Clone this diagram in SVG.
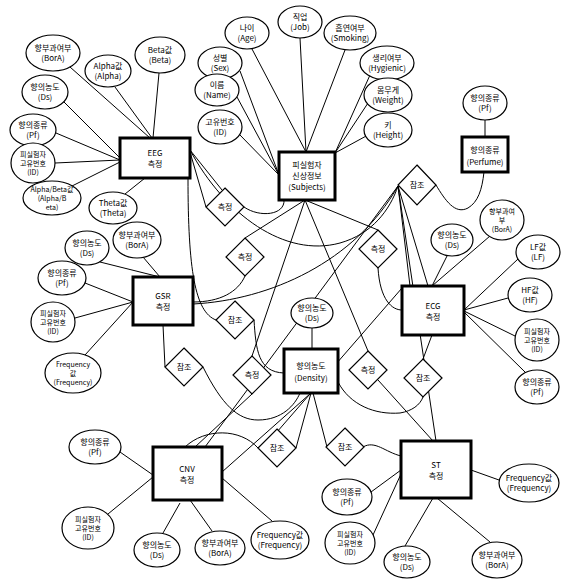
<svg xmlns="http://www.w3.org/2000/svg" width="562" height="579" viewBox="0 0 562 579">
<style>
.ent{fill:#fff;stroke:#000;stroke-width:3}
.att{fill:#fff;stroke:#000;stroke-width:1.2}
.rel{fill:#fff;stroke:#000;stroke-width:1.2}
.c{fill:none;stroke:#000;stroke-width:1}
text{font-family:"Noto Sans CJK KR","Liberation Sans",sans-serif;font-size:8px;text-anchor:middle;fill:#000}
.et{font-size:8px}
.sm{font-size:7px}
</style>
<rect width="562" height="579" fill="#fff"/>
<g id="connectors">
<!-- EEG attributes -->
<line class="c" x1="70" y1="67" x2="150" y2="138"/>
<line class="c" x1="115" y1="87" x2="152" y2="138"/>
<line class="c" x1="159" y1="73" x2="153" y2="138"/>
<line class="c" x1="63" y1="101" x2="120" y2="158"/>
<line class="c" x1="56" y1="133" x2="120" y2="160"/>
<line class="c" x1="55" y1="163" x2="120" y2="160"/>
<line class="c" x1="72" y1="186" x2="120" y2="162"/>
<line class="c" x1="125" y1="194" x2="145" y2="178"/>
<!-- Subjects attributes -->
<line class="c" x1="252" y1="49" x2="306" y2="152"/>
<line class="c" x1="300" y1="38" x2="306" y2="152"/>
<line class="c" x1="345" y1="50" x2="306" y2="152"/>
<line class="c" x1="240" y1="71" x2="279" y2="175"/>
<line class="c" x1="237" y1="97" x2="279" y2="175"/>
<line class="c" x1="239" y1="134" x2="279" y2="175"/>
<line class="c" x1="370" y1="75" x2="335" y2="153"/>
<line class="c" x1="368" y1="103" x2="335" y2="153"/>
<line class="c" x1="368" y1="135" x2="335" y2="153"/>
<!-- Perfume attribute -->
<line class="c" x1="485" y1="120" x2="485" y2="137"/>
<!-- GSR attributes -->
<line class="c" x1="100" y1="262" x2="160" y2="277"/>
<line class="c" x1="143" y1="257" x2="160" y2="277"/>
<line class="c" x1="85" y1="283" x2="133" y2="302"/>
<line class="c" x1="75" y1="318" x2="133" y2="302"/>
<line class="c" x1="85" y1="355" x2="133" y2="302"/>
<!-- Density attribute -->
<line class="c" x1="312" y1="328" x2="312" y2="349"/>
<!-- ECG attributes -->
<line class="c" x1="490" y1="236" x2="432" y2="286"/>
<line class="c" x1="447" y1="256" x2="432" y2="286"/>
<line class="c" x1="518" y1="259" x2="464" y2="310"/>
<line class="c" x1="508" y1="298" x2="464" y2="310"/>
<line class="c" x1="515" y1="336" x2="464" y2="311"/>
<line class="c" x1="525" y1="372" x2="464" y2="312"/>
<!-- CNV attributes -->
<line class="c" x1="120" y1="452" x2="153" y2="475"/>
<line class="c" x1="108" y1="514" x2="153" y2="477"/>
<line class="c" x1="163" y1="533" x2="180" y2="503"/>
<line class="c" x1="212" y1="531" x2="190" y2="500"/>
<line class="c" x1="272" y1="521" x2="222" y2="478"/>
<!-- ST attributes -->
<line class="c" x1="371" y1="492" x2="401" y2="470"/>
<line class="c" x1="373" y1="535" x2="401" y2="474"/>
<line class="c" x1="405" y1="546" x2="433" y2="498"/>
<line class="c" x1="490" y1="542" x2="437" y2="498"/>
<line class="c" x1="499" y1="480" x2="471" y2="470"/>
<!-- relationships -->
<line class="c" x1="190" y1="152" x2="206" y2="207"/>
<line class="c" x1="190" y1="150" x2="222" y2="190"/>
<path class="c" d="M244,207 C260,218 285,215 284,200"/>
<path class="c" d="M190,150 C225,215 285,258 340,243 C372,234 390,210 398,186"/>
<line class="c" x1="305" y1="200" x2="245" y2="238"/>
<path class="c" d="M245,276 C238,292 220,302 193,302"/>
<path class="c" d="M193,304 C270,300 355,262 398,186"/>
<line class="c" x1="305" y1="200" x2="378" y2="230"/>
<path class="c" d="M378,268 C380,300 392,310 402,310"/>
<path class="c" d="M188,178 C188,270 195,312 216,320"/>
<path class="c" d="M254,320 C256,350 258,372 284,373"/>
<line class="c" x1="163" y1="325" x2="165" y2="367"/>
<path class="c" d="M203,367 C222,405 238,420 258,420 C282,420 295,405 300,393"/>
<line class="c" x1="305" y1="200" x2="252" y2="356"/>
<line class="c" x1="252" y1="394" x2="195" y2="447"/>
<line class="c" x1="305" y1="200" x2="368" y2="351"/>
<line class="c" x1="378" y1="380" x2="433" y2="441"/>
<line class="c" x1="432" y1="335" x2="423" y2="359"/>
<path class="c" d="M338,382 C350,405 375,415 400,413 C412,411 420,405 423,397"/>
<path class="c" d="M185,447 C205,428 240,428 258,448"/>
<line class="c" x1="222" y1="472" x2="311" y2="393"/>
<line class="c" x1="296" y1="448" x2="311" y2="393"/>
<line class="c" x1="270" y1="440" x2="402" y2="288"/>
<line class="c" x1="313" y1="393" x2="327" y2="447"/>
<path class="c" d="M363,447 C375,440 385,452 401,456"/>
<line class="c" x1="398" y1="186" x2="428" y2="286"/>
<line class="c" x1="398" y1="186" x2="436" y2="441"/>
<line class="c" x1="398" y1="186" x2="205" y2="447"/>
<line class="c" x1="398" y1="186" x2="410" y2="286"/>
<path class="c" d="M436,185 C445,200 455,215 468,208 C478,202 482,190 484,172"/>
</g>
<g id="rel1"><polygon class="rel" points="225,188 244,207 225,226 206,207"/><text x="225" y="210">측정</text></g>
<g id="rel2"><polygon class="rel" points="245,238 264,257 245,276 226,257"/><text x="245" y="260">측정</text></g>
<g id="rel3"><polygon class="rel" points="417,165 436,185 417,205 398,185"/><text x="417" y="188">참조</text></g>
<g id="rel4"><polygon class="rel" points="378,230 397,249 378,268 359,249"/><text x="378" y="252">측정</text></g>
<g id="rel5"><polygon class="rel" points="235,301 254,320 235,339 216,320"/><text x="235" y="323">참조</text></g>
<g id="rel6"><polygon class="rel" points="184,348 203,367 184,386 165,367"/><text x="184" y="370">참조</text></g>
<g id="rel7"><polygon class="rel" points="252,356 271,375 252,394 233,375"/><text x="252" y="378">측정</text></g>
<g id="rel8"><polygon class="rel" points="368,351 387,370 368,389 349,370"/><text x="368" y="373">측정</text></g>
<g id="rel9"><polygon class="rel" points="423,359 442,378 423,397 404,378"/><text x="423" y="381">참조</text></g>
<g id="rel10"><polygon class="rel" points="277,429 296,448 277,467 258,448"/><text x="277" y="451">참조</text></g>
<g id="rel11"><polygon class="rel" points="345,428 364,447 345,466 326,447"/><text x="345" y="450">참조</text></g>
<g id="eeg"><rect class="ent" x="120" y="138" width="70" height="40"/><text class="et" x="155" y="156">EEG</text><text class="et" x="155" y="167">측정</text></g>
<g id="subjects"><rect class="ent" x="279" y="152" width="56" height="48"/><text class="et" x="307" y="168">피실험자</text><text class="et" x="307" y="179">신상정보</text><text class="et" x="307" y="190">(Subjects)</text></g>
<g id="perfume"><rect class="ent" x="462" y="137" width="46" height="35"/><text class="et" x="485" y="153">향의종류</text><text class="et" x="485" y="165">(Perfume)</text></g>
<g id="gsr"><rect class="ent" x="133" y="277" width="60" height="48"/><text class="et" x="163" y="299">GSR</text><text class="et" x="163" y="310">측정</text></g>
<g id="ecg"><rect class="ent" x="402" y="286" width="62" height="49"/><text class="et" x="433" y="309">ECG</text><text class="et" x="433" y="320">측정</text></g>
<g id="density"><rect class="ent" x="284" y="349" width="54" height="44"/><text class="et" x="311" y="369">향의농도</text><text class="et" x="311" y="381">(Density)</text></g>
<g id="cnv"><rect class="ent" x="153" y="447" width="69" height="53"/><text class="et" x="187" y="472">CNV</text><text class="et" x="187" y="483">측정</text></g>
<g id="st"><rect class="ent" x="401" y="441" width="70" height="57"/><text class="et" x="436" y="468">ST</text><text class="et" x="436" y="479">측정</text></g>
<g id="eeg-attrs">
<g id="a-eeg-bora"><ellipse class="att" cx="53" cy="53" rx="27" ry="18"/><text x="53" y="51">향부과여부</text><text x="53" y="61">(BorA)</text></g>
<g id="a-eeg-alpha"><ellipse class="att" cx="108" cy="71" rx="23" ry="16"/><text x="108" y="69">Alpha값</text><text x="108" y="79">(Alpha)</text></g>
<g id="a-eeg-beta"><ellipse class="att" cx="160" cy="55" rx="25" ry="18"/><text x="160" y="53">Beta값</text><text x="160" y="63">(Beta)</text></g>
<g id="a-eeg-ds"><ellipse class="att" cx="45" cy="92" rx="23" ry="17"/><text x="45" y="90">향의농도</text><text x="45" y="100">(Ds)</text></g>
<g id="a-eeg-pf"><ellipse class="att" cx="33" cy="130" rx="23" ry="16"/><text x="33" y="128">향의종류</text><text x="33" y="138">(Pf)</text></g>
<g id="a-eeg-id"><ellipse class="att" cx="33" cy="163" rx="22" ry="20"/><text class="sm" x="33" y="157">피실험자</text><text class="sm" x="33" y="166">고유번호</text><text class="sm" x="33" y="175">(ID)</text></g>
<g id="a-eeg-ab"><ellipse class="att" cx="52" cy="198" rx="29" ry="17"/><text class="sm" x="52" y="192">Alpha/Beta값</text><text class="sm" x="52" y="201">(Alpha/B</text><text class="sm" x="52" y="210">eta)</text></g>
<g id="a-eeg-theta"><ellipse class="att" cx="113" cy="208" rx="24" ry="16"/><text x="113" y="206">Theta값</text><text x="113" y="216">(Theta)</text></g>
</g>
<g id="subj-attrs">
<g id="a-s-age"><ellipse class="att" cx="247" cy="33" rx="22" ry="16"/><text x="247" y="31">나이</text><text x="247" y="41">(Age)</text></g>
<g id="a-s-job"><ellipse class="att" cx="300" cy="22" rx="22" ry="16"/><text x="300" y="20">직업</text><text x="300" y="30">(Job)</text></g>
<g id="a-s-smk"><ellipse class="att" cx="350" cy="33" rx="26" ry="17"/><text x="350" y="31">흡연여부</text><text x="350" y="41">(Smoking)</text></g>
<g id="a-s-sex"><ellipse class="att" cx="220" cy="63" rx="22" ry="16"/><text x="220" y="61">성별</text><text x="220" y="71">(Sex)</text></g>
<g id="a-s-name"><ellipse class="att" cx="217" cy="90" rx="22" ry="16"/><text x="217" y="88">이름</text><text x="217" y="98">(Name)</text></g>
<g id="a-s-id"><ellipse class="att" cx="220" cy="127" rx="22" ry="17"/><text x="220" y="125">고유번호</text><text x="220" y="135">(ID)</text></g>
<g id="a-s-hyg"><ellipse class="att" cx="387" cy="63" rx="27" ry="17"/><text x="387" y="61">생리여부</text><text x="387" y="71">(Hygienic)</text></g>
<g id="a-s-wt"><ellipse class="att" cx="388" cy="95" rx="24" ry="17"/><text x="388" y="93">몸무게</text><text x="388" y="103">(Weight)</text></g>
<g id="a-s-ht"><ellipse class="att" cx="388" cy="130" rx="24" ry="17"/><text x="388" y="128">키</text><text x="388" y="138">(Height)</text></g>
</g>
<g id="a-perf-pf"><ellipse class="att" cx="485" cy="103" rx="22" ry="17"/><text x="485" y="101">향의종류</text><text x="485" y="111">(Pf)</text></g>
<g id="gsr-attrs">
<g id="a-g-ds"><ellipse class="att" cx="87" cy="248" rx="22" ry="17"/><text x="87" y="246">향의농도</text><text x="87" y="256">(Ds)</text></g>
<g id="a-g-bora"><ellipse class="att" cx="137" cy="240" rx="24" ry="18"/><text x="137" y="238">향부과여부</text><text x="137" y="248">(BorA)</text></g>
<g id="a-g-pf"><ellipse class="att" cx="62" cy="278" rx="24" ry="17"/><text x="62" y="276">향의종류</text><text x="62" y="286">(Pf)</text></g>
<g id="a-g-id"><ellipse class="att" cx="53" cy="322" rx="22" ry="20"/><text class="sm" x="53" y="316">피실험자</text><text class="sm" x="53" y="325">고유번호</text><text class="sm" x="53" y="334">(ID)</text></g>
<g id="a-g-freq"><ellipse class="att" cx="73" cy="373" rx="28" ry="20"/><text class="sm" x="73" y="367">Frequency</text><text class="sm" x="73" y="376">값</text><text class="sm" x="73" y="385">(Frequency)</text></g>
</g>
<g id="a-den-ds"><ellipse class="att" cx="312" cy="313" rx="21" ry="15"/><text x="312" y="311">향의농도</text><text x="312" y="321">(Ds)</text></g>
<g id="ecg-attrs">
<g id="a-c-bora"><ellipse class="att" cx="502" cy="220" rx="22" ry="20"/><text class="sm" x="502" y="214">향부과여</text><text class="sm" x="502" y="223">부</text><text class="sm" x="502" y="232">(BorA)</text></g>
<g id="a-c-ds"><ellipse class="att" cx="452" cy="240" rx="21" ry="16"/><text x="452" y="238">향의농도</text><text x="452" y="248">(Ds)</text></g>
<g id="a-c-lf"><ellipse class="att" cx="538" cy="252" rx="22" ry="17"/><text x="538" y="250">LF값</text><text x="538" y="260">(LF)</text></g>
<g id="a-c-hf"><ellipse class="att" cx="530" cy="295" rx="22" ry="17"/><text x="530" y="293">HF값</text><text x="530" y="303">(HF)</text></g>
<g id="a-c-id"><ellipse class="att" cx="537" cy="340" rx="22" ry="21"/><text class="sm" x="537" y="334">피실험자</text><text class="sm" x="537" y="343">고유번호</text><text class="sm" x="537" y="352">(ID)</text></g>
<g id="a-c-pf"><ellipse class="att" cx="537" cy="387" rx="22" ry="17"/><text x="537" y="385">향의종류</text><text x="537" y="395">(Pf)</text></g>
</g>
<g id="cnv-attrs">
<g id="a-n-pf"><ellipse class="att" cx="95" cy="447" rx="26" ry="17"/><text x="95" y="445">향의종류</text><text x="95" y="455">(Pf)</text></g>
<g id="a-n-id"><ellipse class="att" cx="88" cy="528" rx="26" ry="21"/><text class="sm" x="88" y="522">피실험자</text><text class="sm" x="88" y="531">고유번호</text><text class="sm" x="88" y="540">(ID)</text></g>
<g id="a-n-ds"><ellipse class="att" cx="157" cy="550" rx="23" ry="17"/><text x="157" y="548">향의농도</text><text x="157" y="558">(Ds)</text></g>
<g id="a-n-bora"><ellipse class="att" cx="220" cy="548" rx="25" ry="17"/><text x="220" y="546">향부과여부</text><text x="220" y="556">(BorA)</text></g>
<g id="a-n-freq"><ellipse class="att" cx="280" cy="540" rx="29" ry="19"/><text x="280" y="538">Frequency값</text><text x="280" y="548">(Frequency)</text></g>
</g>
<g id="st-attrs">
<g id="a-t-pf"><ellipse class="att" cx="347" cy="497" rx="25" ry="18"/><text x="347" y="495">향의종류</text><text x="347" y="505">(Pf)</text></g>
<g id="a-t-id"><ellipse class="att" cx="350" cy="543" rx="25" ry="21"/><text class="sm" x="350" y="537">피실험자</text><text class="sm" x="350" y="546">고유번호</text><text class="sm" x="350" y="555">(ID)</text></g>
<g id="a-t-ds"><ellipse class="att" cx="407" cy="562" rx="23" ry="16"/><text x="407" y="560">향의농도</text><text x="407" y="570">(Ds)</text></g>
<g id="a-t-bora"><ellipse class="att" cx="497" cy="560" rx="25" ry="18"/><text x="497" y="558">향부과여부</text><text x="497" y="568">(BorA)</text></g>
<g id="a-t-freq"><ellipse class="att" cx="529" cy="483" rx="30" ry="19"/><text x="529" y="481">Frequency값</text><text x="529" y="491">(Frequency)</text></g>
</g>
</svg>
